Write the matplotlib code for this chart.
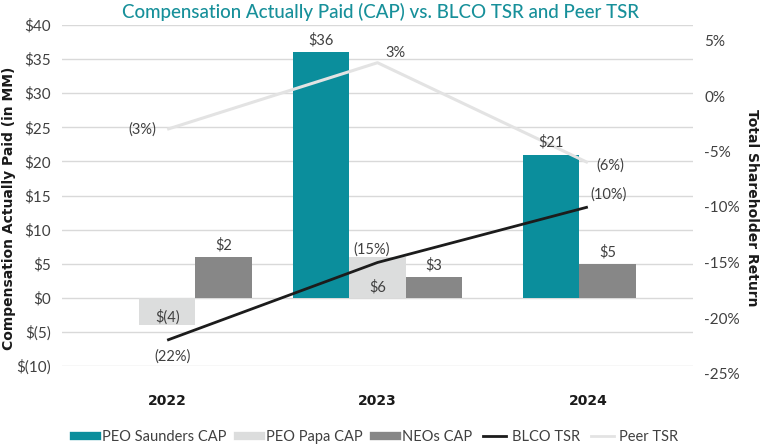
import matplotlib.pyplot as plt
from matplotlib.lines import Line2D
import numpy as np

plt.rcParams['font.family'] = ['Lato', 'DejaVu Sans']

years = ['2022', '2023', '2024']
saunders_cap = [None, 36, 21]
papa_cap = [-4, 6, None]
neos_cap = [6, 3, 5]
neos_labels = ['$2', '$3', '$5']
blco_tsr = [-22, -15, -10]
peer_tsr = [-3, 3, -6]

left_ticks = [-10, -5, 0, 5, 10, 15, 20, 25, 30, 35, 40]
right_ticks = [-25, -20, -15, -10, -5, 0, 5]

teal = '#0b8e9c'
light = '#dcdddd'
mid = '#878787'
dark = '#1c1c1c'
peer_c = '#e3e3e3'
txt = '#404040'

# bar offsets inside each year group (as drawn in the source chart)
w = 0.268
saunders_off = [-w, -w, -0.176]
papa_off = [0, 0, 0]
neos_off = [w, w, 0.093]


def money(v):
    return '$(%d)' % abs(v) if v < 0 else '$%d' % v


fig = plt.figure(figsize=(7.62, 4.46), dpi=100)
L, R = 62 / 762, 693 / 762
ax = fig.add_axes([L, 1 - 366 / 446, R - L, (366 - 25) / 446])
ax2 = fig.add_axes([L, 1 - 373.5 / 446, R - L, (373.5 - 40.5) / 446])

x = np.arange(len(years))

# bars (labels go on ax2 so they sit above the TSR lines)
for i in range(3):
    if saunders_cap[i] is not None:
        xs = x[i] + saunders_off[i]
        ax.bar(xs, saunders_cap[i], w, color=teal, zorder=2)
        ax2.annotate(money(saunders_cap[i]), (xs, saunders_cap[i]), xycoords=ax.transData,
                     xytext=(0, 9), textcoords='offset points', ha='center', va='center',
                     fontsize=10.5, color=txt, zorder=5)
    if papa_cap[i] is not None:
        xp = x[i] + papa_off[i]
        ax.bar(xp, papa_cap[i], w, color=light, zorder=2)
        ypos = 1.5 if papa_cap[i] > 0 else -2.8
        ax2.annotate(money(papa_cap[i]), (xp, ypos), xycoords=ax.transData,
                     ha='center', va='center', fontsize=10.5, color=txt, zorder=5)
    xn = x[i] + neos_off[i]
    ax.bar(xn, neos_cap[i], w, color=mid, zorder=2)
    ax2.annotate(neos_labels[i], (xn, neos_cap[i]), xycoords=ax.transData, xytext=(0, 8.5),
                 textcoords='offset points', ha='center', va='center', fontsize=10.5,
                 color=txt, zorder=5)

ax.set_xlim(-0.5, 2.5)
ax.set_ylim(-10, 40)
ax.set_yticks(left_ticks)
ax.set_yticklabels([money(v) for v in left_ticks], fontsize=11, color=txt)
ax.yaxis.grid(True, color='#d9d9d9', lw=1, zorder=0)
ax.set_axisbelow(True)
ax.set_xticks(x)
ax.set_xticklabels(years, fontsize=10, fontweight='bold', color='#1a1a1a', family='DejaVu Sans')
ax.tick_params(length=0, axis='y', pad=8)
ax.tick_params(length=0, axis='x', pad=20)
for s in ax.spines.values():
    s.set_visible(False)

# TSR lines on secondary axis
ax2.plot(x, peer_tsr, color=peer_c, lw=2.2, solid_capstyle='butt', zorder=2)
ax2.plot(x, blco_tsr, color=dark, lw=2, solid_capstyle='butt', zorder=3)
ax2.set_xlim(-0.5, 2.5)
ax2.set_ylim(-25, 5)
ax2.patch.set_visible(False)
ax2.set_xticks([])
ax2.yaxis.tick_right()
ax2.set_yticks(right_ticks)
ax2.set_yticklabels(['%d%%' % v for v in right_ticks], fontsize=11, color=txt)
ax2.tick_params(length=0, axis='y', pad=8)
for s in ax2.spines.values():
    s.set_visible(False)


def pct(v):
    return '(%d%%)' % abs(v) if v < 0 else '%d%%' % v


peer_lbl_off = [(-18, 0), (13, 7), (16.5, -2)]
blco_lbl_off = [(4, -12), (-4, 9), (15, 9)]
for i in range(3):
    ax2.annotate(pct(peer_tsr[i]), (x[i], peer_tsr[i]), xytext=peer_lbl_off[i],
                 textcoords='offset points', ha='center', va='center', fontsize=10.5,
                 color=txt, zorder=5)
    ax2.annotate(pct(blco_tsr[i]), (x[i], blco_tsr[i]), xytext=blco_lbl_off[i],
                 textcoords='offset points', ha='center', va='center', fontsize=10.5,
                 color=txt, zorder=5)

fig.text(0.5, 1 - 12 / 446, 'Compensation Actually Paid (CAP) vs. BLCO TSR and Peer TSR',
         ha='center', va='center', fontsize=13.5, color='#17909a', fontweight='medium')
fig.text(9 / 762, 1 - 208 / 446, 'Compensation Actually Paid (in MM)', rotation=90,
         ha='center', va='center', fontsize=10, fontweight='bold', color='#1a1a1a', family='DejaVu Sans')
fig.text(752 / 762, 1 - 208 / 446, 'Total Shareholder Return', rotation=-90,
         ha='center', va='center', fontsize=10, fontweight='bold', color='#1a1a1a', family='DejaVu Sans')

handles = [Line2D([], [], color=teal, lw=6),
           Line2D([], [], color=light, lw=6),
           Line2D([], [], color=mid, lw=6),
           Line2D([], [], color=dark, lw=2),
           Line2D([], [], color=peer_c, lw=2)]
names = ['PEO Saunders CAP', 'PEO Papa CAP', 'NEOs CAP', 'BLCO TSR', 'Peer TSR']
leg = fig.legend(handles, names, loc='center', bbox_to_anchor=(376 / 762, 1 - 437 / 446), ncol=5,
                 frameon=False, fontsize=10.5, handlelength=1.6, handletextpad=0.35, columnspacing=0.75)
for t in leg.get_texts():
    t.set_color(txt)

fig.savefig('out.png', dpi=100)
